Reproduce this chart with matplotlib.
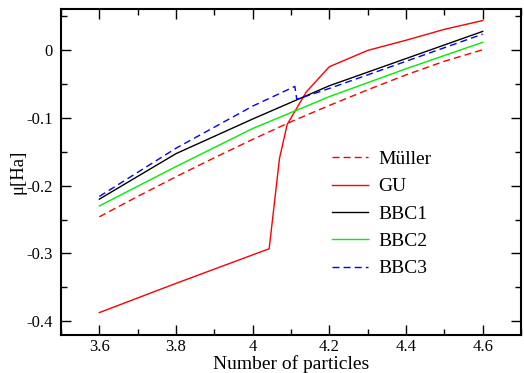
import matplotlib
matplotlib.use("Agg")
import matplotlib.pyplot as plt
from matplotlib.ticker import MultipleLocator

plt.rcParams['font.family'] = ['Liberation Serif', 'DejaVu Serif']

# data
n_grid = [3.6, 3.7, 3.8, 3.9, 4.0, 4.1, 4.2, 4.3, 4.4, 4.5, 4.6]
mueller = [-0.246, -0.216, -0.187, -0.159, -0.132, -0.106, -0.082, -0.059, -0.037, -0.017, 0.0]

n_bbc = [3.6, 3.8, 4.0, 4.2, 4.4, 4.6]
bbc1 = [-0.220, -0.153, -0.102, -0.053, -0.013, 0.027]
bbc2 = [-0.230, -0.172, -0.116, -0.069, -0.028, 0.011]

n_bbc3 = [3.6, 3.8, 4.0, 4.11, 4.115, 4.2, 4.4, 4.6]
bbc3 = [-0.216, -0.145, -0.083, -0.054, -0.073, -0.057, -0.017, 0.023]

n_gu = [3.6, 3.8, 4.0, 4.043, 4.07, 4.09, 4.14, 4.2, 4.3, 4.4, 4.5, 4.6]
gu = [-0.387, -0.344, -0.302, -0.293, -0.160, -0.110, -0.062, -0.025, -0.001, 0.014, 0.030, 0.043]

fig = plt.figure(figsize=(5.24, 3.73), dpi=100)
ax = fig.add_axes([0.1164, 0.1019, 0.8779, 0.874])

ax.plot(n_grid, mueller, color='#ff0000', lw=1.0, ls=(0, (5, 3)), label='Müller')
ax.plot(n_gu, gu, color='#ff0000', lw=1.0, label='GU')
ax.plot(n_bbc, bbc1, color='black', lw=1.0, label='BBC1')
ax.plot(n_bbc, bbc2, color='#00ee00', lw=1.0, label='BBC2')
ax.plot(n_bbc3, bbc3, color='#0000ff', lw=1.0, ls=(0, (5, 3)), label='BBC3')

ax.set_xlim(3.5, 4.7)
ax.set_ylim(-0.42, 0.06)
ax.xaxis.set_minor_locator(MultipleLocator(0.1))
ax.yaxis.set_minor_locator(MultipleLocator(0.05))
ax.set_xticks([3.6, 3.8, 4.0, 4.2, 4.4, 4.6])
ax.set_xticklabels(['3.6', '3.8', '4', '4.2', '4.4', '4.6'])
ax.set_yticks([-0.4, -0.3, -0.2, -0.1, 0.0])
ax.set_yticklabels(['-0.4', '-0.3', '-0.2', '-0.1', '0'])

ax.tick_params(which='both', direction='in', top=True, right=True, labelsize=12, width=1.0)
ax.tick_params(which='major', length=7)
ax.tick_params(axis='x', which='major', pad=3)
ax.tick_params(axis='y', which='major', pad=6)
ax.tick_params(which='minor', length=4)
for s in ax.spines.values():
    s.set_linewidth(1.5)

ax.set_xlabel('Number of particles', fontsize=14, labelpad=0)
ax.set_ylabel('μ[Ha]', fontsize=13.5, labelpad=0)

ax.legend(loc='upper left', bbox_to_anchor=(0.55, 0.62), frameon=False, fontsize=14,
          handlelength=1.9, handletextpad=0.5, labelspacing=0.5)

fig.savefig('out.png', dpi=100)
